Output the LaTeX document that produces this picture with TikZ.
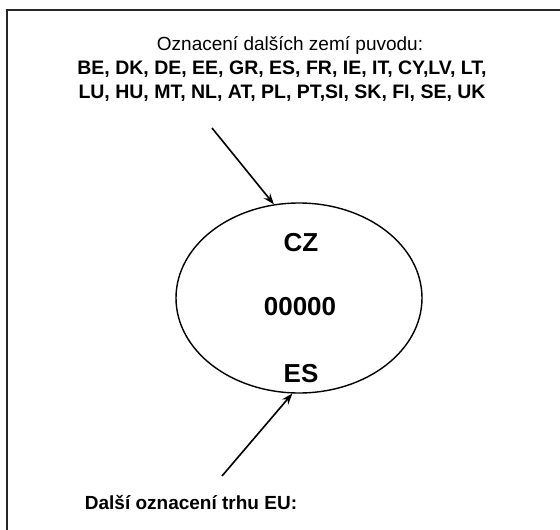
\documentclass[tikz,border=0pt]{standalone}
\usepackage{fontspec}
\setmainfont{Liberation Sans}
\usetikzlibrary{shapes.geometric}
\usetikzlibrary{arrows.meta}

\begin{document}
\begin{tikzpicture}[x=1pt,y=-1pt,
    caption/.style={font=\fontsize{19}{21}\selectfont},
    codelist/.style={font=\fontsize{19.5}{24.5}\selectfont\bfseries,align=center},
    ovaltext/.style={font=\fontsize{26}{28}\selectfont\bfseries},
    pointer/.style={line width=1.6pt,-{Stealth[length=11pt,width=8pt]}}]
    \useasboundingbox (0,0) rectangle (560,530);
    % Frame
    \draw[line width=1.2pt,black!85] (7,530) -- (7,10) -- (560,10);
    % Oval
    \node[ellipse,draw,line width=1.4pt,minimum width=246pt,minimum height=190pt,inner sep=0pt] (oval) at (299,298) {};
    \node[ovaltext] (cz) at (301,243) {CZ};
    \node[ovaltext] (num) at (300,307) {00000};
    \node[ovaltext] (es) at (301,374) {ES};
    % Labels
    \node[caption] (origin) at (290,45) {Oznacení dalších zemí puvodu:};
    \node[codelist] (codes) at (282,81) {BE, DK, DE, EE, GR, ES, FR, IE, IT, CY,LV, LT,\\LU, HU, MT, NL, AT, PL, PT,SI, SK, FI, SE, UK};
    \node[caption,font=\fontsize{19}{21}\selectfont\bfseries] (market) at (191,502) {Další oznacení trhu EU:};
    % Arrows
    \coordinate (origintail) at (212,128);
    \coordinate (markettail) at (222,476);
    \draw[pointer] (origintail) -- (oval.105);
    \draw[pointer] (markettail) -- (oval.266);
\end{tikzpicture}
\end{document}
